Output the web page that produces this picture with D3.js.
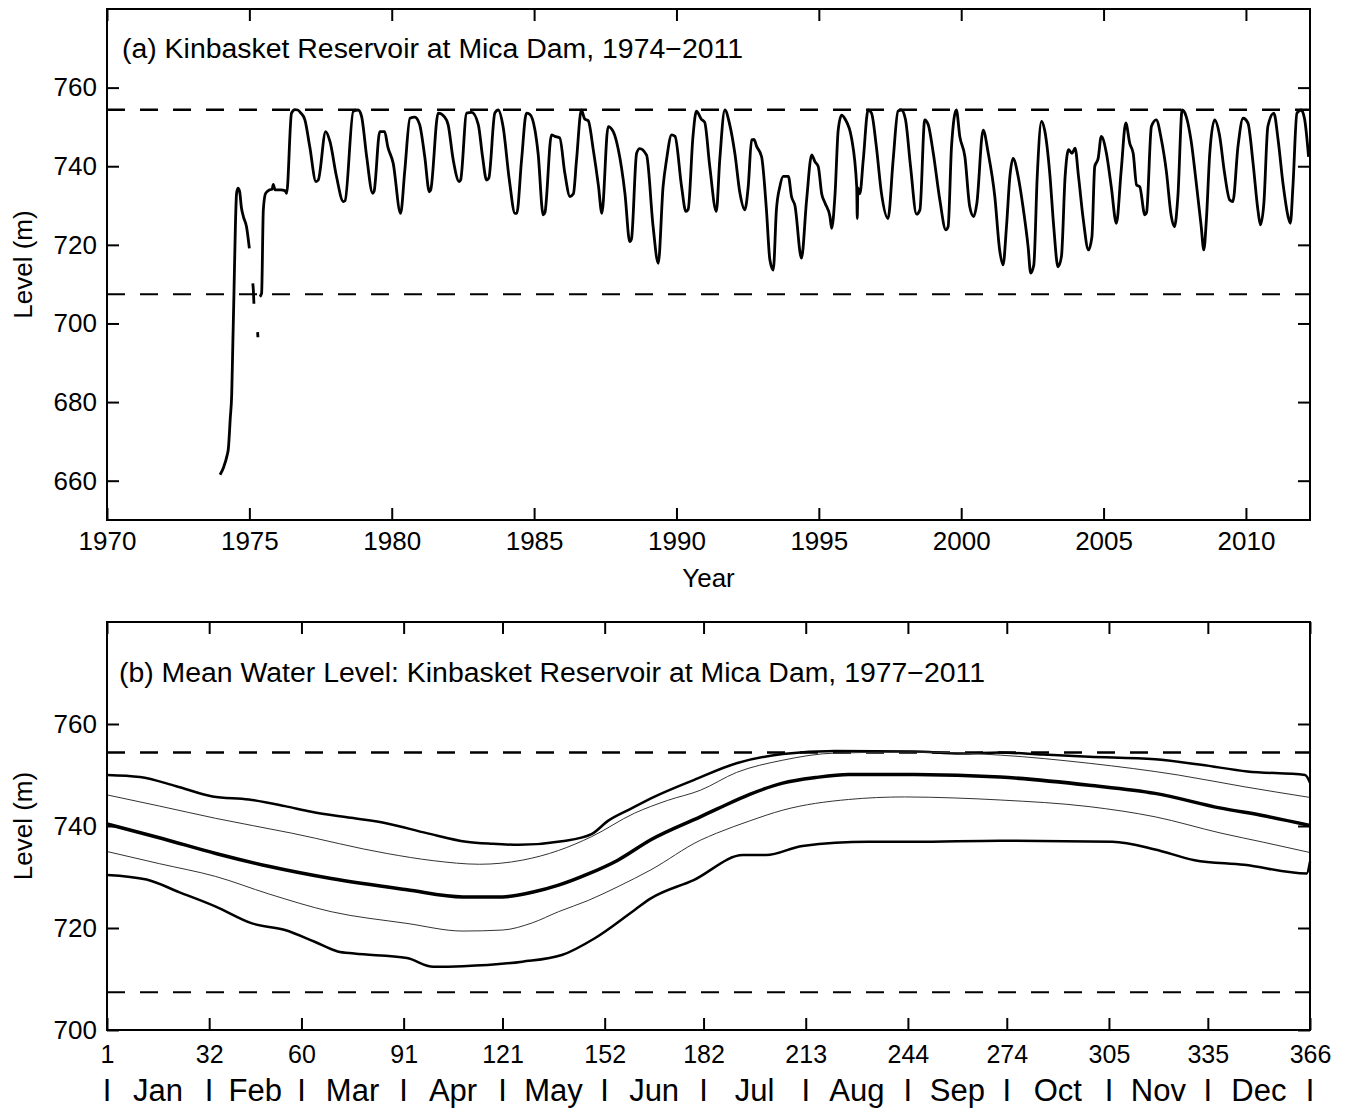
<!DOCTYPE html>
<html><head><meta charset="utf-8">
<script src="https://cdn.jsdelivr.net/npm/d3@7"></script>
<style>
body{margin:0;background:#fff;}
text{font-family:"Liberation Sans",Arial,sans-serif;fill:#000;}
</style></head>
<body><svg id="c" width="1351" height="1114"></svg>
<script>
// ---------- DATA ----------
// Panel (a): daily water level time series (decimal year, level m); null = gap
const years = [1973.97,1974.10,1974.22,1974.26,1974.33,1974.38,1974.42,1974.46,1974.51,1974.55,1974.60,1974.66,1974.72,1974.79,1974.90,1975.00,null,
1975.12,1975.14,1975.16,null,1975.29,1975.30,null,
1975.37,1975.43,1975.49,1975.57,1975.72,1975.80,1975.84,1975.90,1976.10,1976.25,1976.31,1976.48,1976.60,1976.70,1976.80,1976.95,
1977.12,1977.34,1977.42,1977.68,1977.83,1978.06,1978.30,1978.36,1978.65,1978.82,1978.94,1979.12,1979.33,1979.38,1979.58,1979.75,1979.86,
1980.05,1980.31,1980.46,1980.64,1980.81,1980.98,1981.16,1981.32,1981.37,1981.63,1981.86,1981.98,1982.16,1982.37,1982.42,1982.63,1982.81,
1983.04,1983.19,1983.33,1983.41,1983.62,1983.74,1983.91,1984.13,1984.33,1984.39,1984.56,1984.73,1984.85,1985.03,1985.14,1985.32,1985.38,
1985.61,1985.73,1985.90,1986.08,1986.26,1986.38,1986.49,1986.66,1986.78,1986.90,1987.08,1987.26,1987.38,1987.60,1987.78,1987.95,
1988.19,1988.36,1988.42,1988.60,1988.71,1988.95,1989.18,1989.36,1989.53,1989.65,1989.83,1989.95,1990.18,1990.33,1990.41,1990.58,1990.70,
1990.87,1990.99,1991.17,1991.40,1991.52,1991.70,1991.87,1992.05,1992.23,1992.40,1992.52,1992.64,1992.72,1992.82,1992.99,1993.16,1993.28,
1993.40,1993.51,1993.63,1993.75,1993.93,1994.04,1994.16,1994.39,1994.57,1994.75,1994.86,1994.98,1995.10,1995.22,1995.39,1995.45,1995.57,
1995.68,1995.80,1995.92,1996.15,1996.33,1996.35,1996.37,1996.44,1996.56,1996.73,1996.85,1997.02,1997.20,1997.43,1997.61,1997.78,1997.90,
1998.04,1998.22,1998.43,1998.55,1998.72,1998.84,1999.02,1999.25,1999.46,1999.54,1999.66,1999.83,1999.95,2000.13,2000.30,2000.44,2000.55,
2000.77,2000.95,2001.18,2001.35,2001.47,2001.59,2001.71,2001.82,2002.00,2002.17,2002.35,2002.44,2002.55,2002.67,2002.82,2002.93,2003.11,
2003.25,2003.40,2003.52,2003.65,2003.77,2003.89,2004.00,2004.12,2004.29,2004.47,2004.59,2004.69,2004.81,2004.92,2005.10,2005.27,2005.45,
2005.62,2005.78,2005.92,2006.04,2006.16,2006.27,2006.45,2006.51,2006.68,2006.85,2007.03,2007.20,2007.38,2007.49,2007.61,2007.76,2007.90,
2008.07,2008.25,2008.43,2008.52,2008.61,2008.73,2008.90,2009.07,2009.25,2009.43,2009.54,2009.72,2009.90,2010.07,2010.25,2010.42,2010.51,
2010.63,2010.77,2010.98,2011.13,2011.30,2011.48,2011.56,2011.65,2011.79,2011.94,2012.06,2012.20];
const levels = [661.5,663.5,666.5,668,676,682,695,708,725,733,734.4,733.5,729.5,727.2,724.6,719.1,null,
710.2,708.5,705,null,697.8,696.5,null,
706.8,707.7,728.9,733.1,734,734.2,735.4,734,734,733.8,733.1,753.5,754.4,754.3,753.6,751.8,
745,736.1,736.5,748.8,746.3,737.4,731,731.2,754,754.3,752.7,742.4,733.1,733.6,748.8,748.8,745,
740.8,728,739,752.2,752.5,750.6,742.4,733.5,734,753.5,752.5,750.6,741.6,736.1,736.5,753.5,753.7,
750.6,742.4,736.5,737,753.5,754.3,750.1,736.5,728,728,741.6,753.5,753.2,749.2,743.3,727.6,728.2,
748,747.6,747.2,738.2,732.3,733,741.6,754.3,752,751.6,744.1,735,728,750.1,748.8,744.5,
733.1,720.8,721.5,743.3,744.5,742.8,724.6,715.3,734.8,741.6,748,747.6,734.8,728.5,729,747.6,754,
752,751.2,739.9,728.5,741.6,754.3,750.6,743.3,733.1,728.9,734.8,746.7,746.8,745,742.4,728.9,716.2,
713.6,728.9,734.8,737.4,737.4,732.3,730,716.6,731.4,742.9,741.2,739.9,733,730.6,727.2,724.2,733,
749.2,753,752,747.1,734.8,726.7,734.5,733,741.6,754.3,753.5,745,733.1,726.7,741.6,754,754.3,
752,740,727.8,728.9,751.8,750.6,743.3,731.4,723.8,724.6,745,754.3,747.6,742.4,729.7,727.2,730.6,
749.2,743.3,732.3,718.7,714.9,724.6,737.4,742,737.4,729.7,719.5,712.8,714.9,737.4,751.4,749.2,738.2,
724.6,714.4,717,737.4,744.2,743.3,744.6,737.4,726.3,718.7,722,739.9,742,747.6,743.3,734.8,725.5,
739,751,745.8,743.3,735.2,734.8,727.6,728.2,750.1,751.8,746.8,739,727.2,724.6,732.3,754.3,752.7,
746.7,736.1,724.6,718.7,726.3,743.3,751.8,748,738.2,731.4,731,745,752.2,751,740.8,728.9,725.1,
730.6,750.1,753.5,746.7,735.7,727.2,725.5,734.8,753.5,754.3,752,742.4];

// Operating limits (m)
const fullPool = 754.4;
const minPool = 707.4;

// Panel (b): day-of-year statistics, 1977-2011
const maxDays = [1,11,22,33,44,55,63,75,86,98,110,118,126,139,148,153,160,167,179,192,206,222,246,260,272,285,299,319,333,347,364.5,366];
const maxLevels = [750.0,749.6,747.8,745.8,745.2,743.9,742.8,741.6,740.5,738.6,736.9,736.5,736.3,737.0,738.4,741.0,743.4,745.7,749.0,752.3,754.1,754.7,754.6,754.2,754.4,754.0,753.6,753.1,752.0,750.7,750.0,748.5];
const upDays = [1,17,34,57,86,100,114,127,138,148,161,171,181,192,206,222,246,272,299,326,346,366];
const upLevels = [746.1,743.9,741.5,738.6,734.6,733.2,732.5,733.3,735.2,737.9,742.5,745.0,747.0,750.5,752.9,754.3,754.5,753.9,752.3,750.0,747.7,745.6];
const meanDays = [1,18,34,50,69,92,109,121,130,138,147,156,166,181,186,196,206,216,226,246,272,299,319,339,352,366];
const meanLevels = [740.4,737.5,734.6,732.1,729.7,727.5,726.1,726.1,727.0,728.4,730.6,733.3,737.3,741.8,743.3,746.2,748.4,749.5,750.1,750.1,749.6,748.0,746.4,743.5,742.0,740.1];
const loDays = [1,17,34,50,69,92,109,121,130,138,147,156,166,181,186,196,206,226,243,258,272,299,319,339,352,366];
const loLevels = [735.0,732.6,730.1,726.7,723.2,720.9,719.4,719.6,721.0,723.2,725.4,728.1,731.4,737.2,738.6,741.0,743.1,745.2,745.7,745.5,745.1,743.8,741.8,738.6,736.8,734.8];
const minDays = [1,13,23,34,45,55,64,71,76,92,100,109,127,139,149,161,166,179,194,201,212,232,246,272,306,319,331,346,365,366];
const minLevels = [730.4,729.5,727.0,724.2,720.9,719.6,717.3,715.4,715.0,714.1,712.4,712.5,713.4,714.7,718.0,723.5,725.8,729.4,734.3,734.3,736.1,736.9,736.9,737.1,736.9,735.4,733.3,732.4,730.7,733.0];

// Tick labels
const yearTicks = [1970,1975,1980,1985,1990,1995,2000,2005,2010];
const levelTicksA = [660,680,700,720,740,760];
const levelTicksB = [700,720,740,760];
const dayTicks = [1,32,60,91,121,152,182,213,244,274,305,335,366];
const monthNames = ["Jan","Feb","Mar","Apr","May","Jun","Jul","Aug","Sep","Oct","Nov","Dec"];

// ---------- DRAW ----------
const svg = d3.select("#c");
const FONT = 26;

function frame(g, x, y, xTicks, yTicks, fmtX, xFont, xPad) {
  const [x0,x1] = x.range(); const [y1,y0] = y.range();
  g.append("g").attr("transform",`translate(0,${y1})`)
    .call(d3.axisBottom(x).tickValues(xTicks).tickSize(-12).tickPadding(xPad).tickFormat(fmtX))
    .call(a=>{a.select(".domain").remove(); a.selectAll("line").attr("stroke-width",2);
      a.selectAll("text").style("font-size",xFont+"px");});
  g.append("g").attr("transform",`translate(0,${y0})`)
    .call(d3.axisTop(x).tickValues(xTicks).tickSize(-12).tickFormat(""))
    .call(a=>{a.select(".domain").remove(); a.selectAll("line").attr("stroke-width",2);});
  g.append("g").attr("transform",`translate(${x0},0)`)
    .call(d3.axisLeft(y).tickValues(yTicks).tickSize(-12).tickPadding(10).tickFormat(d3.format("d")))
    .call(a=>{a.select(".domain").remove(); a.selectAll("line").attr("stroke-width",2);
      a.selectAll("text").style("font-size",FONT+"px");});
  g.append("g").attr("transform",`translate(${x1},0)`)
    .call(d3.axisRight(y).tickValues(yTicks).tickSize(-12).tickFormat(""))
    .call(a=>{a.select(".domain").remove(); a.selectAll("line").attr("stroke-width",2);});
  g.append("rect").attr("x",x0).attr("y",y0).attr("width",x1-x0).attr("height",y1-y0)
    .attr("fill","none").attr("stroke","#000").attr("stroke-width",2);
}
function dashed(g, x, y, v, w) {
  const [x0,x1] = x.range();
  g.append("line").attr("x1",x0).attr("x2",x1).attr("y1",y(v)).attr("y2",y(v))
    .attr("stroke","#000").attr("stroke-width",w).attr("stroke-dasharray","18,15");
}

// Panel (a)
const xa = d3.scaleLinear().domain([1970,2012.25]).range([107,1310]);
const ya = d3.scaleLinear().domain([650,780]).range([520,9]);
const ga = svg.append("g");
dashed(ga, xa, ya, fullPool, 2.5);
dashed(ga, xa, ya, minPool, 2);
const seriesA = years.map((t,i)=>({t, v: levels[i]}));
ga.append("path").datum(seriesA)
  .attr("d", d3.line().defined(d=>d.t!==null && d.v!==null).x(d=>xa(d.t)).y(d=>ya(d.v)).curve(d3.curveMonotoneX))
  .attr("fill","none").attr("stroke","#000").attr("stroke-width",2.8).attr("stroke-linejoin","round");
frame(ga, xa, ya, yearTicks, levelTicksA, d3.format("d"), FONT, 12);
ga.append("text").attr("x",122).attr("y",58).style("font-size","27px")
  .attr("textLength",621).attr("lengthAdjust","spacingAndGlyphs")
  .text("(a) Kinbasket Reservoir at Mica Dam, 1974\u22122011");
ga.append("text").attr("x",(107+1310)/2).attr("y",587).attr("text-anchor","middle").style("font-size",FONT+"px").text("Year");
ga.append("text").attr("transform",`translate(32,${(9+520)/2}) rotate(-90)`).attr("text-anchor","middle").style("font-size",FONT+"px").text("Level (m)");

// Panel (b)
const xb = d3.scaleLinear().domain([1,366]).range([107,1310]);
const yb = d3.scaleLinear().domain([700,780]).range([1030,622]);
const gb = svg.append("g");
dashed(gb, xb, yb, fullPool, 2.5);
dashed(gb, xb, yb, minPool, 2);
const lineB = d3.line().x(d=>xb(d[0])).y(d=>yb(d[1])).curve(d3.curveMonotoneX);
const seriesB = [
  {d: d3.zip(maxDays,maxLevels), w: 2.5, c:"#000"},
  {d: d3.zip(upDays,upLevels), w: 1, c:"#333"},
  {d: d3.zip(meanDays,meanLevels), w: 3.5, c:"#000"},
  {d: d3.zip(loDays,loLevels), w: 1, c:"#333"},
  {d: d3.zip(minDays,minLevels), w: 2.5, c:"#000"}
];
gb.selectAll("path.s").data(seriesB).join("path").attr("class","s")
  .attr("d", s=>lineB(s.d)).attr("fill","none").attr("stroke",s=>s.c).attr("stroke-width",s=>s.w)
  .attr("stroke-linejoin","round");
frame(gb, xb, yb, dayTicks, levelTicksB, d3.format("d"), 25, 15);
gb.append("text").attr("x",119).attr("y",682).style("font-size","27px")
  .attr("textLength",866).attr("lengthAdjust","spacingAndGlyphs")
  .text("(b) Mean Water Level: Kinbasket Reservoir at Mica Dam, 1977\u22122011");
gb.append("text").attr("transform",`translate(32,${(622+1030)/2}) rotate(-90)`).attr("text-anchor","middle").style("font-size",FONT+"px").text("Level (m)");
// month row
const mg = gb.append("g").style("font-size","31px");
mg.selectAll("text.sep").data(dayTicks).join("text").attr("class","sep")
  .attr("x",d=>xb(d)).attr("y",1101).attr("text-anchor","middle").text("I");
mg.selectAll("text.mon").data(monthNames).join("text").attr("class","mon")
  .attr("x",(d,i)=>(xb(dayTicks[i])+xb(dayTicks[i+1]))/2).attr("y",1101).attr("text-anchor","middle").text(d=>d);
</script></body></html>
